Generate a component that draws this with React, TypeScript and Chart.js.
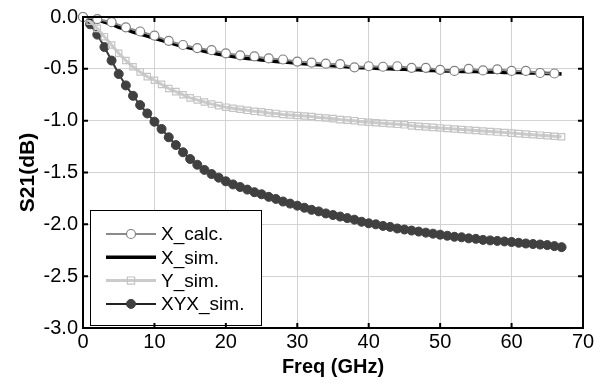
import React, { useEffect, useRef } from "react";
import { Chart, registerables } from "chart.js";

Chart.register(...registerables);

// ---- data ----
const freqCalc = [0, 2, 4, 6, 8, 10, 12, 14, 16, 18, 20, 22, 24, 26, 28, 30, 32, 34, 36, 38, 40, 42, 44, 46, 48, 50, 52, 54, 56, 58, 60, 62, 64, 66];
const xCalc = [0, -0.02, -0.05, -0.1, -0.14, -0.18, -0.23, -0.27, -0.3, -0.32, -0.35, -0.37, -0.38, -0.4, -0.41, -0.43, -0.44, -0.45, -0.455, -0.485, -0.475, -0.48, -0.475, -0.49, -0.49, -0.51, -0.52, -0.5, -0.515, -0.505, -0.52, -0.52, -0.54, -0.545];

const freqSim = [0, 1, 2, 3, 4, 5, 6, 7, 8, 9, 10, 11, 12, 13, 14, 15, 16, 17, 18, 19, 20, 21, 22, 23, 24, 25, 26, 27, 28, 29, 30, 31, 32, 33, 34, 35, 36, 37, 38, 39, 40, 41, 42, 43, 44, 45, 46, 47, 48, 49, 50, 51, 52, 53, 54, 55, 56, 57, 58, 59, 60, 61, 62, 63, 64, 65, 66, 67];
const xSim = [0, -0.01, -0.03, -0.05, -0.07, -0.1, -0.12, -0.145, -0.165, -0.185, -0.205, -0.225, -0.245, -0.265, -0.285, -0.3, -0.315, -0.33, -0.345, -0.36, -0.37, -0.38, -0.39, -0.4, -0.405, -0.415, -0.42, -0.43, -0.435, -0.44, -0.445, -0.45, -0.455, -0.46, -0.465, -0.47, -0.475, -0.48, -0.485, -0.49, -0.49, -0.495, -0.5, -0.5, -0.505, -0.505, -0.51, -0.51, -0.515, -0.515, -0.52, -0.52, -0.52, -0.525, -0.525, -0.525, -0.53, -0.53, -0.53, -0.535, -0.535, -0.535, -0.54, -0.54, -0.54, -0.545, -0.545, -0.55];
const ySim = [0, -0.04, -0.11, -0.19, -0.27, -0.35, -0.42, -0.48, -0.53, -0.575, -0.61, -0.65, -0.69, -0.72, -0.75, -0.78, -0.8, -0.82, -0.84, -0.855, -0.87, -0.88, -0.89, -0.9, -0.91, -0.915, -0.925, -0.93, -0.94, -0.945, -0.95, -0.955, -0.96, -0.97, -0.975, -0.98, -0.99, -0.995, -1.0, -1.01, -1.015, -1.02, -1.025, -1.03, -1.035, -1.04, -1.05, -1.055, -1.06, -1.065, -1.07, -1.075, -1.08, -1.085, -1.09, -1.095, -1.1, -1.105, -1.11, -1.115, -1.12, -1.125, -1.13, -1.135, -1.14, -1.145, -1.15, -1.155];
const xyxSim = [0, -0.07, -0.17, -0.29, -0.42, -0.55, -0.66, -0.76, -0.85, -0.93, -1.01, -1.08, -1.16, -1.235, -1.305, -1.37, -1.425, -1.475, -1.515, -1.55, -1.585, -1.615, -1.64, -1.665, -1.69, -1.71, -1.735, -1.755, -1.78, -1.8, -1.82, -1.84, -1.86, -1.875, -1.895, -1.91, -1.925, -1.94, -1.955, -1.975, -1.99, -2.0, -2.015, -2.025, -2.04, -2.05, -2.06, -2.07, -2.08, -2.09, -2.1, -2.11, -2.12, -2.125, -2.135, -2.14, -2.15, -2.155, -2.16, -2.165, -2.17, -2.178, -2.185, -2.19, -2.195, -2.2, -2.21, -2.22];

const seriesNames = ["X_calc.", "X_sim.", "Y_sim.", "XYX_sim."];
const xTitle = "Freq (GHz)";
const yTitle = "S21(dB)";

const FONT = "'Liberation Sans', Arial, Helvetica, sans-serif";

const pts = (xs: number[], ys: number[]) => xs.map((x, i) => ({ x, y: ys[i] }));

const legendPlugin = {
  id: "boxLegend",
  afterDatasetsDraw(chart: any) {
    const { ctx, chartArea } = chart;
    const bx = chartArea.left + 7;
    const by = chartArea.top + 193;
    const bw = 171;
    const bh = chartArea.bottom - 3 - by;
    ctx.save();
    ctx.fillStyle = "#ffffff";
    ctx.fillRect(bx, by, bw, bh);
    ctx.strokeStyle = "#000";
    ctx.lineWidth = 1;
    ctx.strokeRect(bx + 0.5, by + 0.5, bw, bh);
    const dsets = chart.data.datasets;
    dsets.forEach((ds: any, i: number) => {
      const cy = by + 24 + i * 23.3;
      const x0 = bx + 16;
      const x1 = bx + 66;
      ctx.strokeStyle = ds.legendLine || ds.borderColor;
      ctx.lineWidth = ds.borderWidth;
      ctx.beginPath();
      ctx.moveTo(x0, cy);
      ctx.lineTo(x1, cy);
      ctx.stroke();
      if (ds.pointRadius > 0) {
        const mx = (x0 + x1) / 2;
        const r = ds.pointRadius;
        ctx.fillStyle = ds.pointBackgroundColor;
        ctx.strokeStyle = ds.pointBorderColor;
        ctx.lineWidth = ds.pointBorderWidth;
        ctx.beginPath();
        if (ds.pointStyle === "rect") {
          ctx.rect(mx - r * 0.8, cy - r * 0.8, r * 1.6, r * 1.6);
        } else {
          ctx.arc(mx, cy, r, 0, Math.PI * 2);
        }
        ctx.fill();
        ctx.stroke();
      }
      ctx.fillStyle = "#000";
      ctx.font = `19px ${FONT}`;
      ctx.textBaseline = "middle";
      ctx.textAlign = "left";
      ctx.fillText(ds.label, x1 + 5, cy + 1);
    });
    ctx.restore();
  },
};

const frameTicksPlugin = {
  id: "frameTicks",
  afterDraw(chart: any) {
    const { ctx, chartArea, scales } = chart;
    const { left, right, top, bottom } = chartArea;
    const len = 5;
    ctx.save();
    ctx.strokeStyle = "#000";
    ctx.lineWidth = 2;
    ctx.beginPath();
    scales.x.ticks.forEach((t: any) => {
      const px = scales.x.getPixelForValue(t.value);
      ctx.moveTo(px, bottom);
      ctx.lineTo(px, bottom - len);
      ctx.moveTo(px, top);
      ctx.lineTo(px, top + len);
    });
    scales.y.ticks.forEach((t: any) => {
      const py = scales.y.getPixelForValue(t.value);
      ctx.moveTo(left, py);
      ctx.lineTo(left + len, py);
      ctx.moveTo(right, py);
      ctx.lineTo(right - len, py);
    });
    ctx.stroke();
    ctx.strokeRect(left, top, right - left, bottom - top);
    ctx.restore();
  },
};

export default function App() {
  const ref = useRef<HTMLCanvasElement | null>(null);
  useEffect(() => {
    if (!ref.current) return;
    const chart = new Chart(ref.current, {
      type: "line",
      data: {
        datasets: [
          {
            label: seriesNames[0],
            data: pts(freqCalc, xCalc),
            borderColor: "#8a8a8a",
            borderWidth: 2,
            pointRadius: 4.5,
            pointStyle: "circle",
            pointBackgroundColor: "#ffffff",
            pointBorderColor: "#808080",
            pointBorderWidth: 1.2,
            tension: 0,
          },
          {
            label: seriesNames[1],
            data: pts(freqSim, xSim),
            borderColor: "#000000",
            borderWidth: 3.5,
            pointRadius: 0,
            tension: 0,
          },
          {
            label: seriesNames[2],
            data: pts(freqSim, ySim),
            borderColor: "#cbcbcb",
            borderWidth: 3,
            pointRadius: 4.5,
            pointStyle: "rect",
            pointBackgroundColor: "rgba(255,255,255,0)",
            pointBorderColor: "#c4c4c4",
            pointBorderWidth: 1.2,
            tension: 0,
          },
          {
            label: seriesNames[3],
            data: pts(freqSim, xyxSim),
            borderColor: "#3a3a3a",
            legendLine: "#222222",
            borderWidth: 2,
            pointRadius: 4.5,
            pointStyle: "circle",
            pointBackgroundColor: "#404040",
            pointBorderColor: "#404040",
            pointBorderWidth: 1,
            tension: 0,
          } as any,
        ],
      },
      options: {
        responsive: false,
        animation: false,
        clip: false as any,
        layout: { padding: { left: 0, top: 14, right: 30, bottom: 0 } },
        plugins: { legend: { display: false }, tooltip: { enabled: false } },
        scales: {
          x: {
            type: "linear",
            min: 0,
            max: 70,
            afterFit: (s: any) => { s.height = 57; },
            ticks: { stepSize: 10, color: "#000", font: { size: 20, family: FONT }, padding: 2, maxRotation: 0 },
            grid: { color: "#d2d2d2", lineWidth: 1, drawTicks: false },
            border: { display: false },
            title: { display: true, text: xTitle, color: "#000", font: { size: 20, weight: "bold", family: FONT }, padding: { top: 0, bottom: 6 } },
          },
          y: {
            type: "linear",
            min: -3,
            max: 0,
            afterFit: (s: any) => { s.width = 83; },
            ticks: { stepSize: 0.5, color: "#000", font: { size: 20, family: FONT }, padding: 5, callback: (v: any) => Number(v).toFixed(1) },
            grid: { color: "#d2d2d2", lineWidth: 1, drawTicks: false },
            border: { display: false },
            title: { display: true, text: yTitle, color: "#000", font: { size: 21, weight: "bold", family: FONT }, padding: { top: 16, bottom: 0 } },
          },
        },
      },
      plugins: [legendPlugin, frameTicksPlugin],
    });
    return () => chart.destroy();
  }, []);
  return (
    <div style={{ position: "fixed", left: 0, top: 0, width: 613, height: 385, background: "#fff" }}>
      <canvas ref={ref} width={613} height={385} style={{ display: "block" }} />
    </div>
  );
}
